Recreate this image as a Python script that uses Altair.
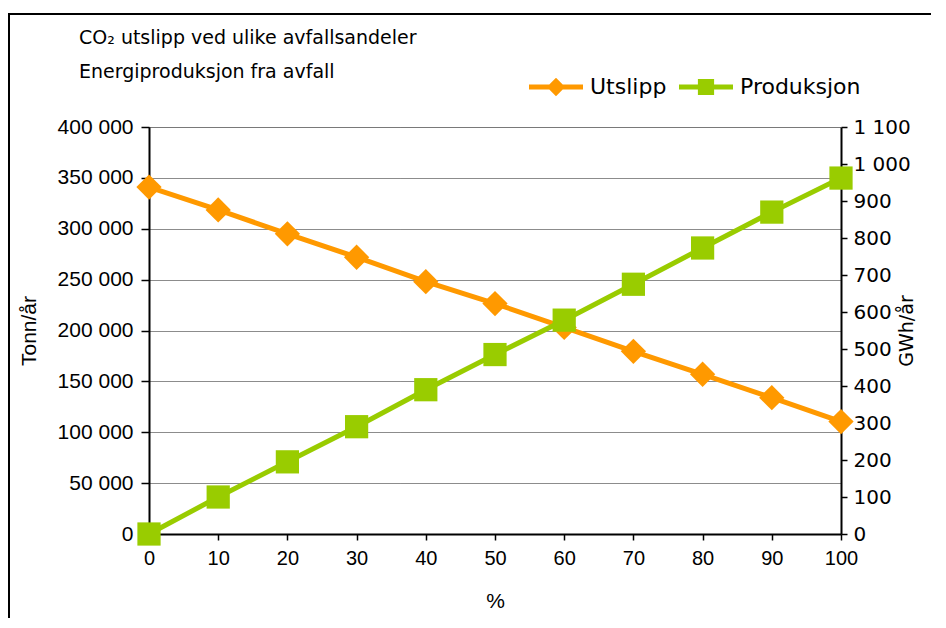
import altair as alt
import pandas as pd

# ---- data ----
prosent = [0, 10, 20, 30, 40, 50, 60, 70, 80, 90, 100]
utslipp = [341000, 318500, 295000, 272000, 248000, 226500, 203000, 179500, 157000, 134000, 110500]
produksjon = [0, 100, 195, 290, 390, 485, 578, 675, 773, 870, 962]
serier = ["Utslipp", "Produksjon"]
farger = ["#FF9900", "#99CC00"]
venstre_ticks = [0, 50000, 100000, 150000, 200000, 250000, 300000, 350000, 400000]
hoyre_ticks = [0, 100, 200, 300, 400, 500, 600, 700, 800, 900, 1000, 1100]
x_ticks = prosent
tittel_linjer = ["CO₂ utslipp ved ulike avfallsandeler", "Energiproduksjon fra avfall"]

df = pd.DataFrame({
    "pct": prosent * 2,
    "serie": ["Utslipp"] * len(prosent) + ["Produksjon"] * len(prosent),
    "verdi": utslipp + produksjon,
})

W, H = 692, 407
PAD = {"left": 141, "top": 119, "right": 90, "bottom": 84}

space_fmt = "replace(format(datum.value, ',d'), ',', ' ')"

x_enc = alt.X(
    "pct:Q",
    scale=alt.Scale(domain=[0, 100], nice=False),
    axis=alt.Axis(
        values=x_ticks, title="%", grid=False, labelFlush=False,
        labelFont="Liberation Sans", labelFontSize=20, labelColor="black", labelPadding=8,
        titleFont="Liberation Sans", titleFontSize=21, titleFontWeight="normal",
        titleColor="black", titlePadding=22,
        domainColor="black", domainWidth=2, tickColor="black", tickWidth=1.5, tickSize=6,
    ),
)

y_left = alt.Y(
    "verdi:Q",
    scale=alt.Scale(domain=[0, 400000], nice=False),
    axis=alt.Axis(
        values=venstre_ticks, title="Tonn/år", labelExpr=space_fmt, labelFlush=False,
        labelFont="Liberation Sans", labelFontSize=21, labelColor="black", labelPadding=8,
        titleFont="Liberation Sans", titleFontSize=21, titleFontWeight="normal",
        titleColor="black", titlePadding=18,
        domainColor="black", domainWidth=2, tickColor="black", tickWidth=1.5, tickSize=8,
        grid=True, gridColor="black", gridDash=[1, 1], gridWidth=1, gridOpacity=0.9,
    ),
)

y_right = alt.Y(
    "verdi:Q",
    scale=alt.Scale(domain=[0, 1100], nice=False),
    axis=alt.Axis(
        orient="right", values=hoyre_ticks, title="GWh/år", labelExpr=space_fmt, labelFlush=False,
        labelFont="DejaVu Sans", labelFontSize=20, labelColor="black", labelPadding=6,
        titleFont="DejaVu Sans", titleFontSize=19, titleFontWeight="normal",
        titleColor="black", titlePadding=6, titleAngle=270,
        domainColor="black", domainWidth=2, tickColor="black", tickWidth=1.5, tickSize=6,
        grid=False,
    ),
)

base = alt.Chart(df)

ut = base.transform_filter(alt.datum.serie == "Utslipp")
pr = base.transform_filter(alt.datum.serie == "Produksjon")

ut_line = ut.mark_line(color=farger[0], strokeWidth=5).encode(x=x_enc, y=y_left)
ut_pts = ut.mark_point(shape="diamond", filled=True, size=640, color=farger[0], opacity=1).encode(x=x_enc, y=y_left)

# legend symbols: line + marker as custom paths (unit coordinates)
diamond_path = ("M-1,-0.093L1,-0.093L1,0.093L-1,0.093Z"
                "M0,-0.34L0.34,0L0,0.34L-0.34,0Z")
square_path = ("M-1,-0.093L1,-0.093L1,0.093L-1,0.093Z"
               "M-0.3,-0.3L0.3,-0.3L0.3,0.3L-0.3,0.3Z")

legend_layer = base.mark_point(filled=True, size=0, opacity=1).encode(
    x=x_enc, y=y_left,
    color=alt.Color("serie:N", scale=alt.Scale(domain=serier, range=farger),
                    legend=alt.Legend(
                        title=None, orient="none", direction="horizontal",
                        legendX=380, legendY=-67, padding=0,
                        symbolSize=2916, symbolOpacity=1, symbolStrokeWidth=0,
                        labelFont="DejaVu Sans", labelFontSize=22, labelColor="black",
                        labelOffset=7, columnPadding=12, labelLimit=300,
                    )),
    shape=alt.Shape("serie:N", scale=alt.Scale(domain=serier, range=[diamond_path, square_path])),
)

pr_line = pr.mark_line(color=farger[1], strokeWidth=5).encode(x=x_enc, y=y_right)
pr_pts = pr.mark_point(shape="square", filled=True, size=540, color=farger[1], opacity=1).encode(x=x_enc, y=y_right)

# outer frame of the figure and the two-line heading
one = pd.DataFrame({"k": [0]})
frame_left = alt.Chart(one).mark_rule(color="black", strokeWidth=2).encode(
    x=alt.value(-140), y=alt.value(-113), y2=alt.value(H + PAD["bottom"]))
frame_top = alt.Chart(one).mark_rule(color="black", strokeWidth=2).encode(
    x=alt.value(-141), x2=alt.value(W + PAD["right"]), y=alt.value(-113))

tittel_style = dict(align="left", baseline="alphabetic", font="DejaVu Sans", fontSize=19, color="black")
tittel1 = alt.Chart(one).mark_text(**tittel_style).encode(
    x=alt.value(-70), y=alt.value(-83), text=alt.value(tittel_linjer[0]))
tittel2 = alt.Chart(one).mark_text(**tittel_style).encode(
    x=alt.value(-70), y=alt.value(-49), text=alt.value(tittel_linjer[1]))

left = alt.layer(frame_left, frame_top, tittel1, tittel2, ut_line, ut_pts, legend_layer)
right = alt.layer(pr_line, pr_pts)

chart = alt.layer(left, right).resolve_scale(y="independent").properties(
    width=W, height=H,
    autosize=alt.AutoSizeParams(type="none"),
    padding=PAD,
).configure_view(stroke=None).configure(background="white")

chart.save("out.html", embed_options={"renderer": "svg", "actions": False})
